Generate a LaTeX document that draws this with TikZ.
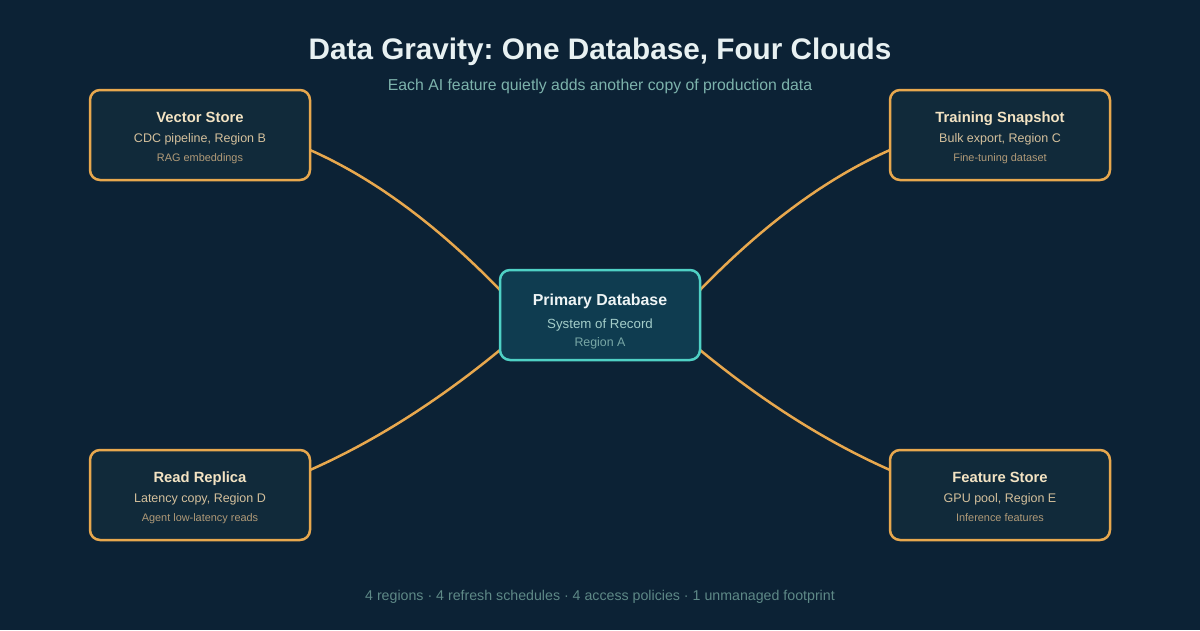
\documentclass[tikz,border=0pt]{standalone}
\usepackage{fontspec}
\setmainfont{Liberation Sans}
\frenchspacing
\definecolor{bg}{HTML}{0C2235}
\definecolor{boxfill}{HTML}{112A3A}
\definecolor{orange}{HTML}{E8A84E}
\definecolor{prifill}{HTML}{0F3C50}
\definecolor{teal}{HTML}{4FD1C5}
\definecolor{titlec}{HTML}{E8F1F2}
\definecolor{subc}{HTML}{7DB3AC}
\definecolor{btitle}{HTML}{F3E3C3}
\definecolor{bsub}{HTML}{D4C09C}
\definecolor{bthird}{HTML}{B09A78}
\definecolor{ptitle}{HTML}{EEF4F5}
\definecolor{psub}{HTML}{A3CDC9}
\definecolor{pthird}{HTML}{78A7A6}
\definecolor{footc}{HTML}{5E8987}
\tikzset{
  outerbox/.style={draw=orange, fill=boxfill, line width=2.5pt, rounded corners=10pt, minimum width=220pt, minimum height=90pt, inner sep=0pt},
  pribox/.style={draw=teal, fill=prifill, line width=2.5pt, rounded corners=10pt, minimum width=200pt, minimum height=90pt, inner sep=0pt},
  conn/.style={draw=orange, line width=2.5pt},
  txt/.style={anchor=base, inner sep=0pt},
}
\begin{document}
\begin{tikzpicture}[x=1pt,y=-1pt]
\fill[bg] (0,0) rectangle (1200,630);
\useasboundingbox (0,0) rectangle (1200,630);

% connectors (behind boxes)
\coordinate (vsE) at (310,150);
\coordinate (tsW) at (890,150);
\coordinate (rrE) at (310,470);
\coordinate (fsW) at (890,470);
\coordinate (pNW) at (500,290);
\coordinate (pNE) at (700,290);
\coordinate (pSW) at (500,350);
\coordinate (pSE) at (700,350);
\draw[conn] (vsE) .. controls (373.3,178) and (436.7,224.7) .. (pNW);
\draw[conn] (tsW) .. controls (826.7,178) and (763.3,224.7) .. (pNE);
\draw[conn] (rrE) .. controls (373.3,442) and (436.7,402) .. (pSW);
\draw[conn] (fsW) .. controls (826.7,442) and (763.3,402) .. (pSE);

% boxes
\node[outerbox] (vs) at (200,135) {};
\node[outerbox] (ts) at (1000,135) {};
\node[outerbox] (rr) at (200,495) {};
\node[outerbox] (fs) at (1000,495) {};
\node[pribox] (pd) at (600,315) {};

% title
\node[txt, text=titlec, font=\bfseries\fontsize{29.7}{34}\selectfont] (title) at (600,59.5) {Data Gravity: One Database, Four Clouds};
\node[txt, text=subc, font=\fontsize{15.8}{18}\selectfont] (subtitle) at (600,90) {Each AI feature quietly adds another copy of production data};

% outer box texts
\foreach \n/\x/\y/\a/\b/\c in {
  vsT/200/122/Vector Store/{CDC pipeline, Region B}/RAG embeddings,
  tsT/1000/122/Training Snapshot/{Bulk export, Region C}/Fine-tuning dataset,
  rrT/200/482/Read Replica/{Latency copy, Region D}/Agent low-latency reads,
  fsT/1000/482/Feature Store/{GPU pool, Region E}/Inference features}{
  \node[txt, text=btitle, font=\bfseries\fontsize{14.8}{17}\selectfont] (\n a) at (\x,\y) {\a};
  \node[txt, text=bsub, font=\fontsize{12.5}{14}\selectfont] (\n b) at (\x,\y+20) {\b};
  \node[txt, text=bthird, font=\fontsize{10.9}{12}\selectfont] (\n c) at (\x,\y+39) {\c};
}

% primary texts
\node[txt, text=ptitle, font=\bfseries\fontsize{15.9}{18}\selectfont] (pdA) at (600,305) {Primary Database};
\node[txt, text=psub, font=\fontsize{13.3}{15}\selectfont] (pdB) at (600,328) {System of Record};
\node[txt, text=pthird, font=\fontsize{12.4}{14}\selectfont] (pdC) at (600,346.5) {Region A};

% footer
\node[txt, text=footc, font=\fontsize{14.2}{16}\selectfont] (foot) at (600,600) {4 regions · 4 refresh schedules · 4 access policies · 1 unmanaged footprint};
\end{tikzpicture}
\end{document}
